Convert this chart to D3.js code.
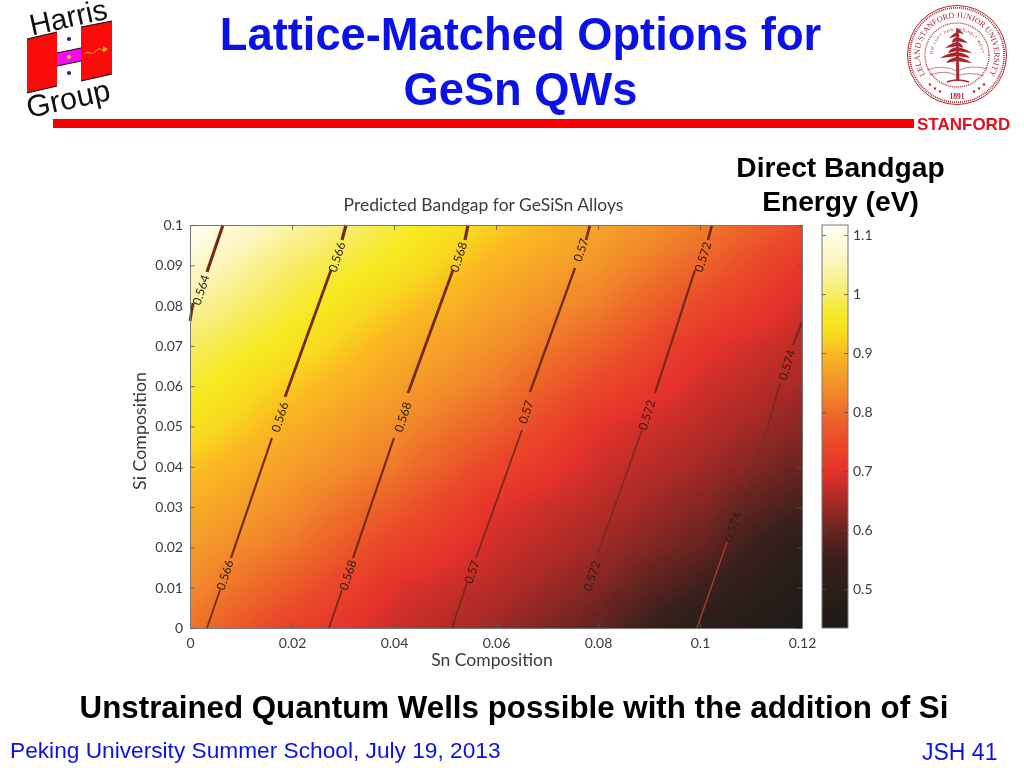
<!DOCTYPE html>
<html><head><meta charset="utf-8">
<script src="https://cdnjs.cloudflare.com/ajax/libs/d3/7.8.5/d3.min.js"></script>
<style>
html,body{margin:0;padding:0;background:#fff;width:1024px;height:768px;overflow:hidden}
#wrap{position:relative;width:1024px;height:768px}
canvas,svg{position:absolute;left:0;top:0}
</style></head><body><div id="wrap"></div>
<script>
// ---- data ----
const titleLines = ["Lattice-Matched Options for","GeSn QWs"];
const cbTitleLines = ["Direct Bandgap","Energy (eV)"];
const caption = "Unstrained Quantum Wells possible with the addition of Si";
const footerLeft = "Peking University Summer School, July 19, 2013";
const footerRight = "JSH 41";
const chartTitle = "Predicted Bandgap for GeSiSn Alloys";
const xLabel = "Sn Composition", yLabel = "Si Composition";
const xTicks = [0,0.02,0.04,0.06,0.08,0.1,0.12];
const yTicks = [0,0.01,0.02,0.03,0.04,0.05,0.06,0.07,0.08,0.09,0.1];
const cbTicks = [0.5,0.6,0.7,0.8,0.9,1,1.1];
const snGrid = [0,0.02,0.04,0.06,0.08,0.1,0.12];
const siGrid = [0,0.01,0.02,0.03,0.04,0.05,0.06,0.07,0.08,0.09,0.1];
// rows: si = 0 ... 0.1, columns: sn = 0 ... 0.12
const gapRow00 = [0.810,0.730,0.677,0.639,0.592,0.500,0.440];
const gapRow01 = [0.837,0.772,0.696,0.660,0.618,0.553,0.471];
const gapRow02 = [0.860,0.812,0.734,0.679,0.641,0.595,0.505];
const gapRow03 = [0.883,0.839,0.776,0.698,0.662,0.620,0.558];
const gapRow04 = [0.910,0.863,0.816,0.738,0.681,0.644,0.598];
const gapRow05 = [0.945,0.886,0.841,0.781,0.700,0.664,0.623];
const gapRow06 = [0.971,0.914,0.865,0.818,0.742,0.683,0.646];
const gapRow07 = [0.996,0.948,0.888,0.844,0.785,0.705,0.666];
const gapRow08 = [1.034,0.974,0.917,0.867,0.822,0.747,0.685];
const gapRow09 = [1.075,0.999,0.951,0.890,0.850,0.789,0.709];
const gapRow10 = [1.115,1.040,0.976,0.920,0.870,0.822,0.751];
const gapRows = [gapRow00,gapRow01,gapRow02,gapRow03,gapRow04,gapRow05,gapRow06,gapRow07,gapRow08,gapRow09,gapRow10];
const cmapValues = [0.434,0.50,0.55,0.60,0.65,0.70,0.75,0.80,0.85,0.90,0.93,0.96,1.00,1.05,1.117];
const cmapColors = ["#1e1a16","#2a1e1a","#3a201c","#6a2420","#aa2a26","#e6322b","#ea4a2a","#ee6c29","#f3952a","#fab922","#f9d91f","#f6e920","#f7ec68","#fbf5b5","#fffff6"];
// contour segments: [sn, si] pairs, broken at their labels
const contour564 = [[[0,0.07618],[0.00059,0.08065]],[[0.00333,0.08834],[0.00647,0.1]]];
const contour566a = [[[0.00333,0],[0.00588,0.00943]],[[0.00804,0.01737],[0.01608,0.04715]]];
const contour566b = [[[0.01863,0.05732],[0.02765,0.08883]],[[0.0298,0.09628],[0.03059,0.1]]];
const contour568a = [[[0.02725,0],[0.0298,0.00943]],[[0.03196,0.01737],[0.04,0.04715]]];
const contour568b = [[[0.04275,0.05831],[0.05157,0.08883]],[[0.05392,0.09628],[0.05451,0.1]]];
const contour570a = [[[0.05137,0],[0.05431,0.01117]],[[0.05608,0.01737],[0.0651,0.04913]]];
const contour570b = [[[0.06667,0.05856],[0.07549,0.08933]],[[0.07765,0.09628],[0.07843,0.1]]];
const contour572a = [[[0.07549,0],[0.07784,0.00943]],[[0.08,0.01861],[0.08863,0.04913]]];
const contour572b = [[[0.09118,0.05831],[0.09902,0.08883]],[[0.10157,0.09628],[0.10235,0.1]]];
const contour574a = [[[0.09941,0],[0.1053,0.02134]],[[0.10882,0.03499],[0.11314,0.04913],[0.11569,0.06079]]];
const contour574b = [[[0.11824,0.07022],[0.12,0.07593]]];
const contourGroups = [contour564,contour566a,contour566b,contour568a,contour568b,contour570a,contour570b,contour572a,contour572b,contour574a,contour574b];
const labelText = ["0.564","0.566","0.566","0.566","0.568","0.568","0.568","0.57","0.57","0.57","0.572","0.572","0.572","0.574","0.574"];
const labelSn = [0.00216,0.02882,0.01765,0.00686,0.0527,0.04176,0.03098,0.07667,0.0659,0.05529,0.10059,0.08961,0.07882,0.11706,0.10647];
const labelSi = [0.08387,0.09206,0.05236,0.01315,0.09206,0.05236,0.01315,0.0938,0.05360,0.01390,0.09206,0.05285,0.0129,0.06526,0.02506];

// ---- layout ----
const W=1024,H=768, L=190,R=802,T=225,B=628, cbL=822,cbR=848;
const x=d3.scaleLinear().domain([0,0.12]).range([L,R]);
const y=d3.scaleLinear().domain([0,0.1]).range([B,T]);
const cbY=d3.scaleLinear().domain([0.434,1.117]).range([B,T]);
const color=d3.scaleLinear().domain(cmapValues).range(cmapColors).interpolate(d3.interpolateRgb).clamp(true);

const wrap=d3.select("#wrap");
const canvas=wrap.append("canvas").attr("width",W).attr("height",H);
const ctx=canvas.node().getContext("2d");
const colIdx=d3.scaleLinear().domain(snGrid).range(snGrid.map((d,i)=>i)).clamp(true);
const rowIdx=d3.scaleLinear().domain(siGrid).range(siGrid.map((d,i)=>i)).clamp(true);
function gapAt(sn,si){
  const cf=colIdx(sn), rf=rowIdx(si);
  const c0=Math.min(Math.floor(cf),snGrid.length-2), r0=Math.min(Math.floor(rf),siGrid.length-2);
  const u=cf-c0,v=rf-r0;
  const a=gapRows[r0][c0],b=gapRows[r0][c0+1],c=gapRows[r0+1][c0],d=gapRows[r0+1][c0+1];
  return a*(1-u)*(1-v)+b*u*(1-v)+c*(1-u)*v+d*u*v;
}
for(let px=L;px<R;px++)for(let py=T;py<B;py++){
  ctx.fillStyle=color(gapAt(x.invert(px+.5),y.invert(py+.5)));
  ctx.fillRect(px,py,1,1);
}
for(let py=T;py<B;py++){
  ctx.fillStyle=color(cbY.invert(py+.5));
  ctx.fillRect(cbL,py,cbR-cbL,1);
}

const svg=wrap.append("svg").attr("width",W).attr("height",H).attr("viewBox",`0 0 ${W} ${H}`);
const sans="'Liberation Sans',Arial,sans-serif", chartFont="Lato,'Open Sans',sans-serif", ink="#3b3b3b";

// slide titles
svg.selectAll("text.t").data(titleLines).join("text").attr("class","t")
 .attr("x",520.5).attr("y",(d,i)=>[50,105][i]).attr("text-anchor","middle")
 .style("font",`bold 45.3px ${sans}`).attr("fill","#0a12e6").text(d=>d);
svg.append("rect").attr("x",53).attr("y",119).attr("width",861).attr("height",9).attr("fill","#f40000");
svg.append("text").attr("x",917).attr("y",130).style("font",`bold 17px ${sans}`).attr("fill","#e01020").text("STANFORD");
svg.selectAll("text.cb").data(cbTitleLines).join("text").attr("class","cb")
 .attr("x",840.5).attr("y",(d,i)=>[177,211][i]).attr("text-anchor","middle")
 .style("font",`bold 28.2px ${sans}`).attr("fill","#000").text(d=>d);
svg.append("text").attr("x",514).attr("y",718).attr("text-anchor","middle").style("font",`bold 31.3px ${sans}`).attr("fill","#000").text(caption);
svg.append("text").attr("x",10).attr("y",758).style("font",`22.7px ${sans}`).attr("fill","#0a12e6").text(footerLeft);
svg.append("text").attr("x",922).attr("y",760).style("font",`23px ${sans}`).attr("fill","#0a12e6").text(footerRight);

// contours
const line=d3.line().x(d=>x(d[0])).y(d=>y(d[1]));
contourGroups.forEach(g=>g.forEach(seg=>{
  const avgSi=d3.mean(seg,d=>d[1]), avgSn=d3.mean(seg,d=>d[0]);
  const shade=avgSn>0.09&&avgSi<0.03?"#b03a2e":(avgSn>0.105&&avgSi<0.08?"#7a2a24":(avgSn>0.07&&avgSi<0.05?"#7f2a22":"#722a1a"));
  const width=d3.scaleLinear().domain([0,0.1]).range([1.7,3.2]).clamp(true)(avgSi)-(avgSn>0.06?0.5:0);
  svg.append("path").attr("d",line(seg)).attr("fill","none").attr("stroke",shade).attr("stroke-width",width);
}));
labelText.forEach((t,i)=>{
  svg.append("text").attr("transform",`translate(${x(labelSn[i])},${y(labelSi[i])}) rotate(-72)`)
   .attr("text-anchor","middle").attr("dy","0.35em")
   .style("font",`12px ${chartFont}`).attr("fill","#2e2018").text(t);
});

// axes
function styleAxis(g){g.selectAll("path").attr("stroke","#777").attr("stroke-width",1);
 g.selectAll("line").attr("stroke","#555").attr("stroke-width",.8);
 g.selectAll("text").style("font",`14px ${chartFont}`).attr("fill",ink);}
const fmt=d=>String(+d.toFixed(3));
svg.append("g").attr("transform",`translate(0,${B})`).call(d3.axisBottom(x).tickValues(xTicks).tickFormat(fmt).tickSize(-5).tickSizeOuter(0).tickPadding(10)).call(styleAxis);
svg.append("g").attr("transform",`translate(0,${T})`).call(d3.axisTop(x).tickValues(xTicks).tickFormat("").tickSize(-5).tickSizeOuter(0)).call(styleAxis);
svg.append("g").attr("transform",`translate(${L},0)`).call(d3.axisLeft(y).tickValues(yTicks).tickFormat(fmt).tickSize(-5).tickSizeOuter(0).tickPadding(7)).call(styleAxis);
svg.append("g").attr("transform",`translate(${R},0)`).call(d3.axisRight(y).tickValues(yTicks).tickFormat("").tickSize(-5).tickSizeOuter(0)).call(styleAxis);
// colour bar
svg.append("rect").attr("x",cbL).attr("y",T).attr("width",cbR-cbL).attr("height",B-T).attr("fill","none").attr("stroke","#777");
svg.append("g").attr("transform",`translate(${cbR},0)`).call(d3.axisRight(cbY).tickValues(cbTicks).tickFormat(d=>String(d)).tickSize(-4).tickSizeOuter(0).tickPadding(5)).call(g=>{styleAxis(g);g.select("path").remove();});
svg.append("g").attr("transform",`translate(${cbL},0)`).call(d3.axisLeft(cbY).tickValues(cbTicks).tickFormat("").tickSize(-4).tickSizeOuter(0)).call(g=>{styleAxis(g);g.select("path").remove();});

svg.append("text").attr("x",483.5).attr("y",211).attr("text-anchor","middle").style("font",`17.5px ${chartFont}`).attr("fill",ink).text(chartTitle);
svg.append("text").attr("x",492).attr("y",666).attr("text-anchor","middle").style("font",`17.5px ${chartFont}`).attr("fill",ink).text(xLabel);
svg.append("text").attr("transform","translate(146,431) rotate(-90)").attr("text-anchor","middle").style("font",`17.8px ${chartFont}`).attr("fill",ink).text(yLabel);

// Harris Group logo
const logo=svg.append("g");
logo.append("polygon").attr("points","27,39 57,32 57,86 27,93").attr("fill","#fb0a0a");
logo.append("polygon").attr("points","81,27 112,21 112,74 81,81").attr("fill","#fb0a0a");
logo.append("polygon").attr("points","57,53 81,48 81,61 57,66").attr("fill","#f40cf0");
[[27,39,57,32],[27,93,57,86],[81,27,112,21],[81,81,112,74],[57,53,81,48],[57,66,81,61]].forEach(d=>
  logo.append("line").attr("x1",d[0]).attr("y1",d[1]).attr("x2",d[2]).attr("y2",d[3]).attr("stroke","#111").attr("stroke-width",1.2));
[[69,39,"#1a1a9a"],[69,73,"#1a1a9a"],[69,57,"#f4d030"]].forEach(d=>logo.append("circle").attr("cx",d[0]).attr("cy",d[1]).attr("r",2).attr("fill",d[2]));
logo.append("path").attr("d","M84,54 q3,-3 6,-1 t6,-2 t6,-1 t4,-1").attr("fill","none").attr("stroke","#f4a020").attr("stroke-width",1);
logo.append("polygon").attr("points","103,46 108,49 103,52").attr("fill","#f4c020");
logo.append("text").attr("transform","translate(32,35.5) rotate(-12.5)").style("font",`29.5px ${sans}`).attr("fill","#111").text("Harris");
logo.append("text").attr("transform","translate(29,118) rotate(-12.5)").style("font",`30.5px ${sans}`).attr("fill","#111").text("Group");

// Stanford seal
const seal=svg.append("g").attr("transform","translate(957,55)"), sc="#a8272d";
seal.append("circle").attr("r",49.5).attr("fill","none").attr("stroke",sc).attr("stroke-width",1);
seal.append("circle").attr("r",47.2).attr("fill","none").attr("stroke",sc).attr("stroke-width",1.8).attr("stroke-dasharray","1 1");
seal.append("circle").attr("r",32).attr("fill","none").attr("stroke",sc).attr("stroke-width",1.3).attr("stroke-dasharray","1 1");
const defs=svg.append("defs");
defs.append("path").attr("id","ringOuter").attr("d","M-31.5,20 A37.3,37.3 0 1 1 31.5,20");
defs.append("path").attr("id","ringInner").attr("d","M-24,5 A24.5,24.5 0 1 1 24,5");
seal.append("text").append("textPath").attr("href","#ringOuter").attr("startOffset","50%").attr("text-anchor","middle")
 .style("font",`8.1px 'Liberation Serif',serif`).attr("fill",sc).text("LELAND STANFORD JUNIOR UNIVERSITY");
seal.append("text").append("textPath").attr("href","#ringInner").attr("startOffset","50%").attr("text-anchor","middle")
 .style("font",`3.8px 'Liberation Sans',sans-serif`).attr("letter-spacing",".7").attr("fill",sc).text("DIE LUFT DER FREIHEIT WEHT");
seal.append("text").attr("y",44).attr("text-anchor","middle").style("font",`bold 7.5px 'Liberation Serif',serif`).attr("fill",sc).text("1891");
seal.append("path").attr("d","M-.8,26 L-.8,-24 L.6,-27 L1.2,-24 L2.4,26 Z").attr("fill",sc);
[[-27,3,4],[-23,5,-3],[-18,8,3],[-13,9,-3],[-8,12,3],[-3,15,-2],[2,13,2]].forEach(d=>{
  const h=d[0],w=d[1],k=d[2];
  seal.append("path").attr("d",`M0,${h} Q${-w*.6},${h+1} ${-w+k},${h+6} Q${-w*.4},${h+5} 0,${h+4} Q${w*.4},${h+5} ${w+k},${h+6} Q${w*.6},${h+1} 0,${h} Z`).attr("fill",sc);
});
seal.append("path").attr("d","M-30,15 Q-15,9 0,16 Q14,9 30,14").attr("fill","none").attr("stroke",sc).attr("stroke-width",.6);
seal.append("path").attr("d","M-27,20 Q-10,14 0,21 Q12,16 27,21").attr("fill","none").attr("stroke",sc).attr("stroke-width",.6);
seal.append("path").attr("d","M-10,27 Q0,23 12,27").attr("fill","none").attr("stroke",sc).attr("stroke-width",1.4);
[[-27,31],[-22,35],[-17,38],[27,31],[22,35],[17,38]].forEach(d=>seal.append("text").attr("x",d[0]).attr("y",d[1]).attr("text-anchor","middle").style("font",`bold 5px 'DejaVu Sans',sans-serif`).attr("fill",sc).text("★"));
</script></body></html>
